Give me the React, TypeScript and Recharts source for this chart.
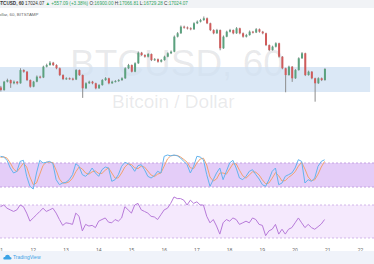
import React from "react";
import {
  ComposedChart,
  Bar,
  LineChart,
  Line,
  XAxis,
  YAxis,
  ReferenceArea,
  ReferenceLine,
} from "recharts";

// BTCUSD, 60 — one slot per ~2.4h
const opens = [
  16100, 15970, 16390, 16470, 16310, 16390, 16310, 16970, 16890, 16470,
  16140, 16390, 16640, 16600, 17140, 17220, 17340, 17220, 17060, 16720,
  16520, 16560, 16540, 16500, 16970, 16720, 16060, 16310, 16390, 16310,
  16060, 16220, 16470, 16560, 16310, 16390, 16420, 16470, 16560, 17060,
  17220, 16890, 17310, 17840, 17720, 17640, 17770, 17470, 17510, 17390,
  17470, 17640, 17810, 17890, 18640, 18810, 19140, 19100, 19060, 19010,
  19310, 19390, 19470, 19560, 19310, 18970, 18810, 18970, 18060, 18640,
  18890, 18970, 18810, 19060, 18810, 18640, 18720, 18890, 18850, 19010,
  18890, 18810, 18220, 17970, 18140, 18310, 17640, 17060, 16720, 17140,
  16560, 16970, 17560, 17810, 16720, 16890, 16560, 16310, 16560, 16470,
];
const highs = [
  16180, 16430, 16540, 16500, 16450, 16420, 17060, 17010, 16920, 16500,
  16430, 16700, 16690, 17190, 17290, 17420, 17380, 17260, 17100, 16760,
  16610, 16600, 16590, 17020, 17000, 16750, 16360, 16440, 16430, 16340,
  16270, 16520, 16620, 16590, 16440, 16470, 16520, 16610, 17110, 17280,
  17250, 17360, 17900, 17880, 17760, 17820, 17800, 17570, 17550, 17520,
  17690, 17860, 17950, 18700, 18870, 19200, 19190, 19150, 19110, 19360,
  19450, 19530, 19650, 19600, 19340, 19010, 19030, 19000, 18700, 18940,
  19030, 19000, 19120, 19090, 18850, 18780, 18950, 18930, 19070, 19050,
  18930, 18840, 18250, 18190, 18360, 18340, 17670, 17090, 17190, 17170,
  17020, 17610, 17870, 17840, 16940, 16920, 16590, 16610, 16600, 17067,
];
const lows = [
  15900, 15940, 16350, 16080, 16260, 16250, 16290, 16840, 16420, 16090,
  16110, 16360, 16550, 16570, 17100, 17190, 17170, 17010, 16670, 16470,
  16480, 16490, 16450, 16470, 16680, 15580, 16020, 16280, 16260, 16010,
  16030, 16190, 16430, 16260, 16280, 16350, 16380, 16430, 16530, 17020,
  16850, 16860, 17280, 17680, 17590, 17600, 17420, 17430, 17340, 17350,
  17440, 17610, 17770, 17860, 18600, 18780, 19040, 19000, 18960, 18980,
  19270, 19350, 19430, 19270, 18920, 18760, 18780, 17960, 18030, 18610,
  18850, 18760, 18780, 18760, 18590, 18600, 18690, 18800, 18820, 18840,
  18760, 18170, 17920, 17940, 18100, 17590, 17010, 15860, 16690, 16380,
  16530, 16940, 17530, 16670, 16690, 16510, 15390, 16280, 16420, 16440,
];
const closes = [
  15970, 16390, 16470, 16310, 16390, 16310, 16970, 16890, 16470, 16140,
  16390, 16640, 16600, 17140, 17220, 17340, 17220, 17060, 16720, 16520,
  16560, 16540, 16500, 16970, 16720, 16060, 16310, 16390, 16310, 16060,
  16220, 16470, 16560, 16310, 16390, 16420, 16470, 16560, 17060, 17220,
  16890, 17310, 17840, 17720, 17640, 17770, 17470, 17510, 17390, 17470,
  17640, 17810, 17890, 18640, 18810, 19140, 19100, 19060, 19010, 19310,
  19390, 19470, 19560, 19310, 18970, 18810, 18970, 18060, 18640, 18890,
  18970, 18810, 19060, 18810, 18640, 18720, 18890, 18850, 19010, 18890,
  18810, 18220, 17970, 18140, 18310, 17640, 17060, 16720, 17140, 16560,
  16970, 17560, 17810, 16720, 16890, 16560, 16310, 16560, 16470, 17024.07,
];

const stochK = [
  96.7, 95, 86.7, 67.5, 55, 59, 84, 86.7, 46.7, 21.7,
  15, 55, 86.7, 80, 81.7, 84, 78.3, 38.3, 25.8, 30,
  31.7, 38.3, 50.8, 78.3, 71.7, 50.8, 46.7, 55, 67.5, 55,
  46.7, 63.3, 70, 67.5, 34.2, 38.3, 50.8, 71.7, 81.7, 78.3,
  71.7, 59.2, 73.3, 75.8, 63.3, 46.7, 42.5, 48.3, 59.2, 55,
  96.7, 100, 98, 100, 98, 92.5, 84, 75.8, 55, 71.7,
  96.7, 95, 88, 50.8, 21.7, 38.3, 55, 67.5, 38.3, 59.2,
  80, 86.7, 67.5, 42.5, 38.3, 46.7, 59.2, 63.3, 50.8, 40,
  25.8, 21.7, 38.3, 59.2, 67.5, 25.8, 30, 46.7, 50.8, 55,
  67.5, 88.3, 84, 30, 38.3, 34.2, 42.5, 71.7, 84, 88,
];
const stochD = [
  94, 95.5, 92, 80, 65, 58, 68, 80, 70, 45,
  26, 30, 52, 74, 82, 82, 81, 62, 40, 30,
  30, 33, 42, 58, 70, 65, 55, 52, 58, 60,
  54, 54, 62, 68, 55, 42, 43, 55, 70, 78,
  76, 68, 66, 72, 70, 60, 50, 46, 52, 55,
  72, 90, 98, 99, 99, 95, 89, 82, 68, 66,
  80, 90, 92, 75, 45, 35, 40, 55, 55, 52,
  65, 78, 78, 62, 48, 42, 50, 58, 57, 50,
  38, 28, 30, 42, 56, 48, 35, 36, 44, 50,
  58, 72, 82, 65, 45, 36, 38, 52, 70, 84,
];
const rsi = [
  68.0, 70, 66.1, 64.1, 62.2, 64.1, 70, 68.0, 60.2, 50.4,
  54.3, 58.2, 62.2, 66.1, 62.2, 64.1, 66.1, 60.2, 52.4, 45.3,
  48.4, 47.7, 46.5, 60.2, 56.3, 38.6, 46.5, 44.5, 45.3, 42.6,
  50.4, 52.4, 54.3, 49.2, 48.4, 52.4, 50.4, 54.3, 68.0, 64.1,
  60.2, 70, 72, 64.1, 62.2, 60.2, 56.3, 55.5, 52.4, 58.2,
  64.1, 66.1, 72, 79.8, 77.8, 77.8, 75.9, 70, 75.9, 72,
  73.9, 70, 70, 56.3, 48.4, 52.4, 44.5, 34.7, 48.4, 52.4,
  50.4, 54.3, 52.4, 46.5, 48.4, 50.4, 48.4, 54.3, 52.4, 46.5,
  45.3, 32.8, 38.6, 40.6, 46.5, 34.7, 40.6, 34.7, 40.6, 42.6,
  48.4, 54.3, 48.4, 42.6, 46.5, 42.6, 40.6, 43.7, 47, 52.4,
];

const dayLabels = ["11", "12", "13", "14", "15", "16", "17", "18", "19", "20", "21", "22"];
const dayTicks = [0, 10, 20, 30, 40, 50, 60, 70, 80, 90, 100, 110];

const UP = "#5ba27f";
const DOWN = "#d05b5b";
const WICK = "#8c8c8c";
const X_DOMAIN: [number, number] = [-0.15, 114.1];

const rows = closes.map((c, i) => ({
  i,
  open: opens[i],
  high: highs[i],
  low: lows[i],
  close: c,
  k: stochK[i],
  d: stochD[i],
  rsi: rsi[i],
}));

const Candle = (props: any) => {
  const { x, y, width, height, payload } = props;
  if (!payload) return null;
  const { open, close, high, low } = payload;
  const top = Math.min(y, y + height);
  const h = Math.abs(height);
  const k = h / (high - low || 1);
  const yo = top + (high - open) * k;
  const yc = top + (high - close) * k;
  const cx = x + width / 2;
  return (
    <g>
      <line x1={cx} x2={cx} y1={top} y2={top + h} stroke={WICK} strokeWidth={1} />
      <rect
        x={x}
        y={Math.min(yo, yc)}
        width={width}
        height={Math.max(1, Math.abs(yo - yc))}
        fill={close >= open ? UP : DOWN}
      />
    </g>
  );
};

const noMargin = { top: 0, right: 0, bottom: 0, left: 0 };
const green = { color: "#2fa360" };

export default function App() {
  return (
    <div
      style={{
        position: "fixed",
        left: 0,
        top: 0,
        width: 374,
        height: 264,
        overflow: "hidden",
        background: "#fff",
        fontFamily: "'Liberation Sans', Arial, sans-serif",
      }}
    >
      {/* header */}
      <div style={{ position: "absolute", left: 0, top: 0, width: 374, height: 8, background: "#f1f3f6" }} />
      <div style={{ position: "absolute", left: -3, top: 1, fontSize: 4.6, lineHeight: "6px", whiteSpace: "nowrap", color: "#333" }}>
        <b>BTCUSD, 60</b> 17024.07 <span style={green}>▲ +557.09 (+3.38%)</span> O:<span style={green}>16900.00</span> H:
        <span style={green}>17066.81</span> L:<span style={green}>16729.28</span> C:<span style={green}>17024.07</span>
      </div>
      <div style={{ position: "absolute", left: -21, top: 12, fontSize: 4.4, lineHeight: "6px", whiteSpace: "nowrap", color: "#666" }}>
        Bitcoin / Dollar, 60, BITSTAMP
      </div>

      {/* watermark */}
      <div style={{ position: "absolute", left: 70, top: 44, fontSize: 37, lineHeight: "40px", whiteSpace: "nowrap", color: "rgba(120,123,134,0.16)" }}>
        BTCUSD, 60
      </div>
      <div style={{ position: "absolute", left: 112, top: 91, fontSize: 19, lineHeight: "22px", whiteSpace: "nowrap", color: "rgba(120,123,134,0.16)" }}>
        Bitcoin / Dollar
      </div>

      {/* price pane */}
      <div style={{ position: "absolute", left: 0, top: 8 }}>
        <ComposedChart width={374} height={135} data={rows} margin={noMargin}>
          <XAxis dataKey="i" type="number" domain={X_DOMAIN} allowDataOverflow hide />
          <YAxis type="number" domain={[13324, 20074]} allowDataOverflow hide />
          <ReferenceArea x1={X_DOMAIN[0]} x2={112.9} y1={15870} y2={17120} fill="#cfe0f3" fillOpacity={0.75} stroke="none" />
          <Bar
            dataKey={(d: any) => [d.low, d.high]}
            barSize={2}
            shape={<Candle />}
            isAnimationActive={false}
          />
        </ComposedChart>
      </div>

      {/* stochastic pane */}
      <div style={{ position: "absolute", left: 0, top: 145 }}>
        <LineChart width={374} height={55} data={rows} margin={noMargin}>
          <XAxis dataKey="i" type="number" domain={X_DOMAIN} allowDataOverflow hide />
          <YAxis type="number" domain={[-12.5, 125]} allowDataOverflow hide />
          <ReferenceArea x1={X_DOMAIN[0]} x2={X_DOMAIN[1]} y1={20} y2={80} fill="#e4cdf8" fillOpacity={1} stroke="none" />
          <ReferenceLine y={80} stroke="#c4a2e2" strokeDasharray="2 2" />
          <ReferenceLine y={20} stroke="#c4a2e2" strokeDasharray="2 2" />
          <Line dataKey="d" stroke="#f2a26f" strokeWidth={1} dot={false} isAnimationActive={false} />
          <Line dataKey="k" stroke="#63b4ee" strokeWidth={1} dot={false} isAnimationActive={false} />
        </LineChart>
      </div>

      {/* RSI pane + time axis */}
      <div style={{ position: "absolute", left: 0, top: 192 }}>
        <LineChart width={374} height={60} data={rows} margin={noMargin}>
          <XAxis
            dataKey="i"
            type="number"
            domain={X_DOMAIN}
            allowDataOverflow
            ticks={dayTicks}
            tickFormatter={(v: number) => dayLabels[dayTicks.indexOf(v)]}
            tick={{ fontSize: 5, fill: "#666" }}
            tickLine={false}
            axisLine={false}
            tickSize={2}
            height={8}
            interval={0}
          />
          <YAxis type="number" domain={[22.7, 85.8]} allowDataOverflow hide />
          <ReferenceArea x1={X_DOMAIN[0]} x2={X_DOMAIN[1]} y1={30} y2={70} fill="#f5e9fd" fillOpacity={1} stroke="none" />
          <ReferenceLine y={70} stroke="#d2b6ea" strokeDasharray="2 2" />
          <ReferenceLine y={30} stroke="#d2b6ea" strokeDasharray="2 2" />
          <Line dataKey="rsi" stroke="#b77ad9" strokeWidth={1} dot={false} isAnimationActive={false} />
        </LineChart>
      </div>

      {/* footer */}
      <div style={{ position: "absolute", left: 0, top: 251, width: 374, height: 13, background: "#f0f3fa" }} />
      <svg style={{ position: "absolute", left: 3, top: 254 }} width={9} height={6} viewBox="0 0 9 6">
        <path d="M1.5 5.5 Q0 5.5 0.3 4 Q0.7 2.8 2 3 Q2.3 0.8 4.5 0.8 Q6.6 0.8 7 3 Q8.8 3.2 8.6 4.5 Q8.4 5.5 7.2 5.5 Z" fill="#3ba3e6" />
      </svg>
      <div style={{ position: "absolute", left: 13, top: 254, fontSize: 5, lineHeight: "6px", whiteSpace: "nowrap", color: "#3ba3e6" }}>
        TradingView
      </div>
    </div>
  );
}
